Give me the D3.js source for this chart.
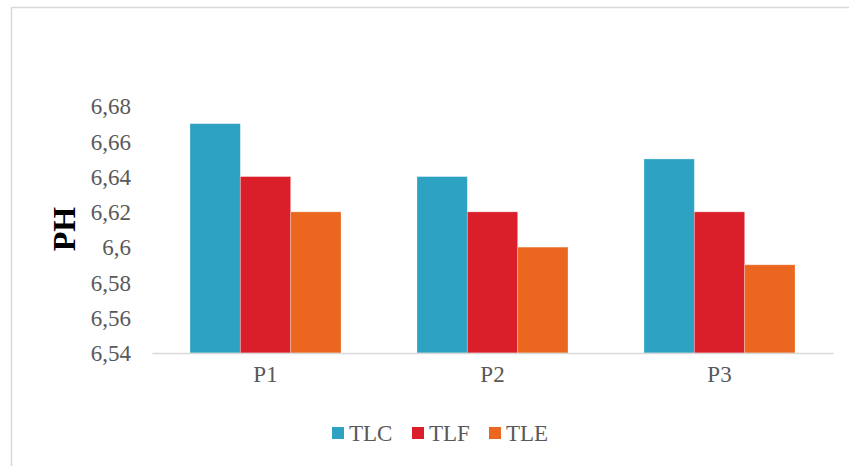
<!DOCTYPE html>
<html>
<head>
<meta charset="utf-8">
<script src="https://cdn.jsdelivr.net/npm/d3@7"></script>
<style>
  html, body { margin: 0; padding: 0; background: #fff; }
  svg { display: block; }
</style>
</head>
<body>
<svg id="chart" width="849" height="466"></svg>
<script>
// pH per sampling point for each treatment
const categories = ["P1", "P2", "P3"];
const seriesNames = ["TLC", "TLF", "TLE"];
const seriesColors = ["#2EA2C2", "#DA1F2A", "#EB661E"];
const TLC = [6.67, 6.64, 6.65];
const TLF = [6.64, 6.62, 6.62];
const TLE = [6.62, 6.60, 6.59];
const yTicks = [6.54, 6.56, 6.58, 6.60, 6.62, 6.64, 6.66, 6.68];
const yTickLabels = ["6,54", "6,56", "6,58", "6,6", "6,62", "6,64", "6,66", "6,68"];

const seriesValues = [TLC, TLF, TLE];
const rows = categories.map((c, i) => ({
  cat: c,
  vals: seriesNames.map((s, j) => ({ key: s, value: seriesValues[j][i], color: seriesColors[j] }))
}));

const svg = d3.select("#chart");
const font = "'Liberation Serif', 'Times New Roman', serif";

// outer chart frame
svg.append("rect")
  .attr("x", 11.5).attr("y", 7.5)
  .attr("width", 860).attr("height", 480)
  .attr("fill", "#fff").attr("stroke", "#d9d9d9").attr("stroke-width", 1.5);

const plot = { left: 152, right: 833, top: 106, bottom: 353 };

const y = d3.scaleLinear().domain([6.54, 6.68]).range([plot.bottom, plot.top]);
const x0 = d3.scaleBand().domain(categories).range([plot.left, plot.right]).paddingInner(0).paddingOuter(0);
const x1 = d3.scaleBand().domain(seriesNames).range([0, x0.bandwidth()]).paddingInner(0).paddingOuter(0.755);

// bars
const groups = svg.append("g").selectAll("g").data(rows).join("g")
  .attr("transform", d => `translate(${x0(d.cat)},0)`);
groups.selectAll("rect").data(d => d.vals).join("rect")
  .attr("x", d => x1(d.key))
  .attr("y", d => y(d.value))
  .attr("width", x1.bandwidth())
  .attr("height", d => plot.bottom - y(d.value))
  .attr("fill", d => d.color)
  .attr("stroke", "rgba(255,255,255,0.35)")
  .attr("stroke-width", 0.8);

// y axis (labels only)
const yAxis = d3.axisLeft(y).tickValues(yTicks)
  .tickFormat((d, i) => yTickLabels[i]).tickSize(0).tickPadding(0);
const gy = svg.append("g").attr("transform", `translate(131,0)`).call(yAxis);
gy.select(".domain").remove();
gy.selectAll("text")
  .attr("font-family", font).attr("font-size", 23).attr("fill", "#595959")
  .attr("dy", "0.34em");

// x axis
const xAxis = d3.axisBottom(x0).tickSize(0).tickPadding(13);
const gx = svg.append("g").attr("transform", `translate(0,${plot.bottom})`).call(xAxis);
gx.select(".domain").attr("stroke", "#d9d9d9").attr("stroke-width", 1.5);
gx.selectAll("text")
  .attr("font-family", font).attr("font-size", 23).attr("fill", "#595959");

// axis title
svg.append("text")
  .attr("transform", `translate(75,229) rotate(-90)`)
  .attr("text-anchor", "middle")
  .attr("font-family", font).attr("font-size", 32).attr("font-weight", "bold")
  .attr("fill", "#000")
  .text("PH");

// legend
const legendX = [332, 412, 489];
const legend = svg.append("g").selectAll("g").data(seriesNames).join("g")
  .attr("transform", (d, i) => `translate(${legendX[i]},427)`);
legend.append("rect")
  .attr("width", 12).attr("height", 12)
  .attr("fill", (d, i) => seriesColors[i]);
legend.append("text")
  .attr("x", 17).attr("y", 6).attr("dy", "0.35em")
  .attr("font-family", font).attr("font-size", 23).attr("fill", "#595959")
  .text(d => d);
</script>
</body>
</html>
